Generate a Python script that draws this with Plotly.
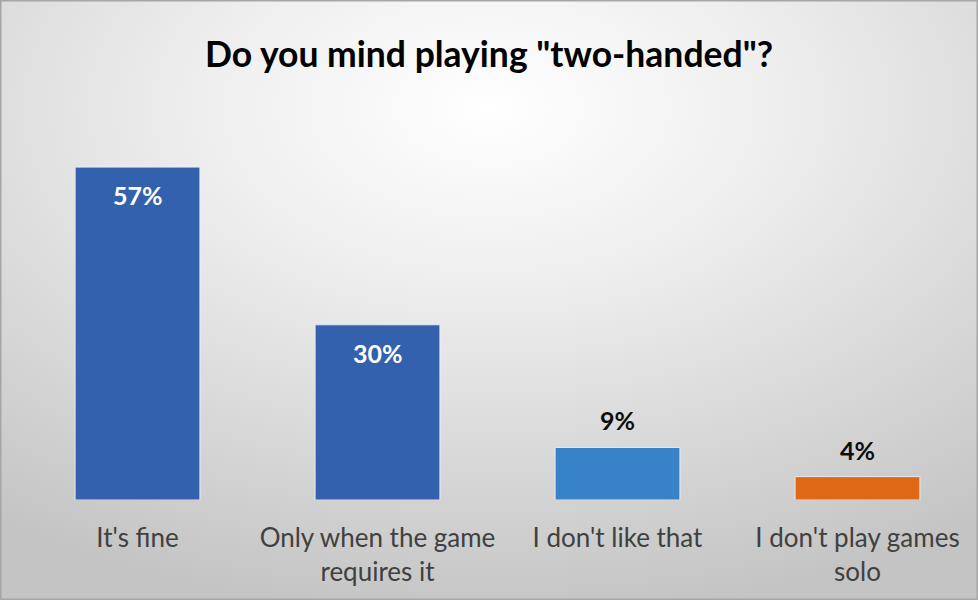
import plotly.graph_objects as go
import urllib.parse

categories = ["It's fine", "Only when the game<br>requires it", "I don't like that", "I don't play games<br>solo"]
values = [57, 30, 9, 4]
labels = ["57%", "30%", "9%", "4%"]
bar_colors = ["#3461AE", "#3461AE", "#3883C7", "#DE6815"]
label_colors = ["white", "white", "#0d0d0d", "#0d0d0d"]
label_inside = [True, True, False, False]

W, H = 978, 600
FONT = "Lato"

svg = (
    "<svg xmlns='http://www.w3.org/2000/svg' width='978' height='600' preserveAspectRatio='none' viewBox='0 0 978 600'>"
    "<defs><radialGradient id='g' cx='0.5' cy='0.18' r='0.85' gradientUnits='objectBoundingBox'>"
    "<stop offset='0' stop-color='#ffffff'/><stop offset='0.35' stop-color='#eeeeee'/>"
    "<stop offset='1' stop-color='#c4c4c4'/></radialGradient></defs>"
    "<rect width='978' height='600' fill='url(#g)'/>"
    "<rect x='0.5' y='0.5' width='977' height='599' fill='none' stroke='#a6a6a6' stroke-width='2'/>"
    "</svg>"
)
bg_uri = "data:image/svg+xml;charset=utf-8," + urllib.parse.quote(svg)

fig = go.Figure()
fig.add_trace(go.Bar(
    x=categories, y=values,
    marker=dict(color=bar_colors, line=dict(color="rgba(235,240,250,0.9)", width=1)),
    hoverinfo="skip",
))

for c, v, t, col, ins in zip(categories, values, labels, label_colors, label_inside):
    fig.add_annotation(
        x=c, y=v, text=f"<b>{t}</b>", showarrow=False,
        yshift=-28 if ins else 27,
        font=dict(family=FONT, size=25, color=col),
    )

fig.update_layout(
    width=W, height=H,
    margin=dict(l=0, r=0, t=0, b=0),
    paper_bgcolor="#d9d9d9",
    plot_bgcolor="rgba(0,0,0,0)",
    images=[dict(source=bg_uri, xref="paper", yref="paper", x=0, y=1, sizex=1, sizey=1,
                 sizing="stretch", xanchor="left", yanchor="top", layer="below")],
    title=dict(text="<b>Do you mind playing \"two-handed\"?</b>", x=0.5, xanchor="center",
               y=1 - 55 / 600, yanchor="middle", yref="paper",
               font=dict(family=FONT, size=35.5, color="#000000")),
    bargap=0.48,
    showlegend=False,
    xaxis=dict(domain=[17.5 / W, 977.5 / W], showgrid=False, zeroline=False, showline=False,
               ticks="", tickfont=dict(family=FONT, size=26, color="#404040"), ticklabelstandoff=20),
    yaxis=dict(domain=[100 / H, (600 - 149.6) / H], range=[0, 60], visible=False),
)

fig.write_html("out.html", config={"displayModeBar": False},
               post_script="document.body.style.margin='0';")
